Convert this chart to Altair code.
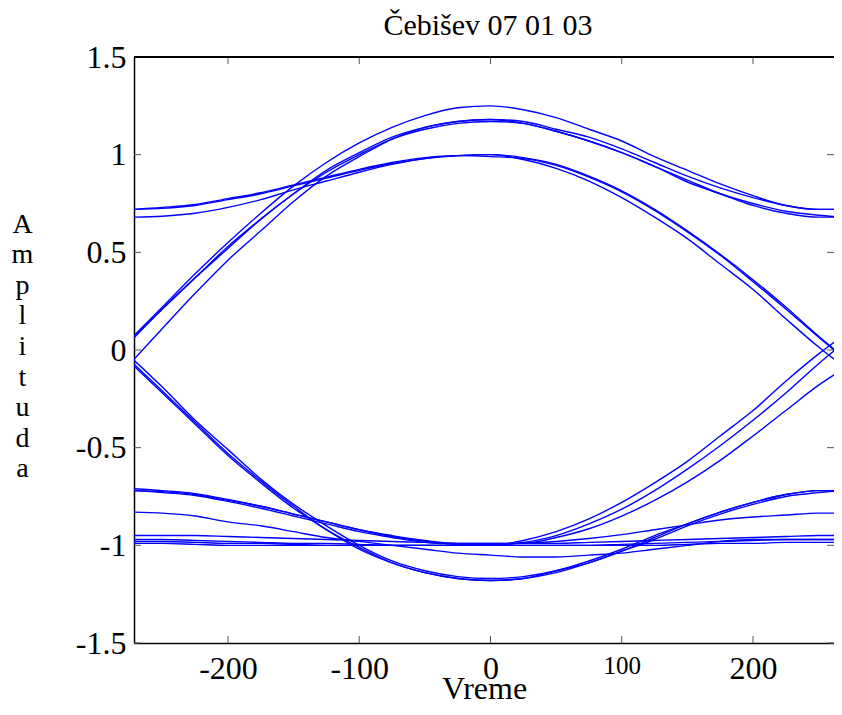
import altair as alt
import pandas as pd

# time grid (shared by all traces)
X = [-272, -250, -225, -200, -175, -150, -125, -100, -75, -50, -25, 0,
     25, 50, 75, 100, 125, 150, 175, 200, 225, 250, 268]

# upper traces
U1 = [0.07, 0.22, 0.39, 0.55, 0.70, 0.84, 0.96, 1.06, 1.14, 1.20, 1.24, 1.25,
      1.23, 1.19, 1.13, 1.07, 0.99, 0.92, 0.85, 0.79, 0.74, 0.72, 0.72]
U2a = [0.07, 0.21, 0.37, 0.53, 0.67, 0.80, 0.92, 1.01, 1.09, 1.14, 1.17, 1.18,
       1.17, 1.13, 1.09, 1.03, 0.96, 0.89, 0.83, 0.78, 0.74, 0.72, 0.72]
U2b = [-0.05, 0.11, 0.29, 0.46, 0.61, 0.76, 0.89, 0.99, 1.08, 1.14, 1.17, 1.18,
       1.16, 1.12, 1.07, 1.01, 0.94, 0.86, 0.80, 0.74, 0.70, 0.68, 0.68]
U2c = [0.06, 0.21, 0.37, 0.52, 0.67, 0.80, 0.91, 1.00, 1.08, 1.13, 1.16, 1.17,
       1.16, 1.12, 1.07, 1.01, 0.94, 0.87, 0.80, 0.75, 0.71, 0.69, 0.68]
U3a = [0.72, 0.725, 0.74, 0.77, 0.80, 0.84, 0.88, 0.92, 0.955, 0.98, 0.995, 1.0,
       0.985, 0.95, 0.89, 0.815, 0.72, 0.61, 0.49, 0.36, 0.22, 0.07, -0.03]
U3b = [0.68, 0.685, 0.70, 0.73, 0.77, 0.82, 0.865, 0.91, 0.95, 0.98, 0.995, 1.0,
       0.975, 0.93, 0.865, 0.78, 0.68, 0.57, 0.44, 0.31, 0.16, 0.015, -0.08]
U3c = [0.72, 0.73, 0.745, 0.775, 0.805, 0.845, 0.885, 0.925, 0.96, 0.985, 0.995, 0.99,
       0.98, 0.945, 0.885, 0.81, 0.715, 0.605, 0.485, 0.35, 0.21, 0.065, -0.035]

# lower traces
L1a = [-0.07, -0.21, -0.37, -0.53, -0.67, -0.80, -0.92, -1.01, -1.09, -1.14, -1.17, -1.18,
       -1.17, -1.13, -1.09, -1.03, -0.96, -0.89, -0.83, -0.78, -0.74, -0.72, -0.72]
L1b = [-0.05, -0.19, -0.36, -0.51, -0.66, -0.79, -0.90, -1.00, -1.08, -1.13, -1.16, -1.17,
       -1.16, -1.13, -1.08, -1.02, -0.95, -0.89, -0.83, -0.78, -0.74, -0.72, -0.72]
L1c = [-0.08, -0.22, -0.38, -0.54, -0.68, -0.81, -0.92, -1.02, -1.09, -1.14, -1.17, -1.18,
       -1.17, -1.14, -1.09, -1.03, -0.97, -0.90, -0.84, -0.79, -0.75, -0.73, -0.72]
L2a = [-0.72, -0.725, -0.74, -0.77, -0.80, -0.84, -0.88, -0.92, -0.955, -0.98, -0.995, -1.0,
       -0.985, -0.95, -0.89, -0.815, -0.72, -0.61, -0.49, -0.36, -0.22, -0.07, 0.03]
L2b = [-0.72, -0.73, -0.745, -0.775, -0.81, -0.85, -0.89, -0.93, -0.96, -0.985, -0.995, -1.0,
       -0.975, -0.93, -0.865, -0.78, -0.68, -0.57, -0.44, -0.31, -0.16, -0.02, 0.07]
L2c = [-0.71, -0.72, -0.735, -0.765, -0.80, -0.84, -0.88, -0.92, -0.95, -0.975, -0.99, -0.99,
       -0.99, -0.96, -0.915, -0.85, -0.77, -0.675, -0.565, -0.44, -0.31, -0.18, -0.10]
L3a = [-0.83, -0.835, -0.85, -0.88, -0.90, -0.93, -0.96, -0.98, -1.0, -1.02, -1.04, -1.05,
       -1.06, -1.06, -1.05, -1.04, -1.02, -1.0, -0.98, -0.97, -0.97, -0.97, -0.97]
L3b = [-0.95, -0.95, -0.95, -0.955, -0.96, -0.965, -0.97, -0.975, -0.98, -0.985, -0.99, -0.99,
       -0.99, -0.99, -0.985, -0.98, -0.975, -0.97, -0.965, -0.96, -0.955, -0.95, -0.95]
L3c = [-0.97, -0.97, -0.975, -0.98, -0.985, -0.99, -0.99, -0.995, -1.0, -1.0, -1.0, -1.0,
       -1.0, -1.0, -1.0, -0.995, -0.99, -0.985, -0.98, -0.975, -0.97, -0.97, -0.97]
L3d = [-0.99, -0.99, -0.995, -1.0, -1.0, -1.0, -1.0, -1.0, -1.0, -1.0, -1.0, -1.0,
       -1.0, -1.0, -1.0, -1.0, -1.0, -0.995, -0.99, -0.99, -0.985, -0.985, -0.985]
L3e = [-0.98, -0.98, -0.985, -0.99, -0.99, -0.995, -1.0, -1.0, -1.0, -1.0, -1.0, -0.995,
       -0.99, -0.98, -0.965, -0.945, -0.92, -0.895, -0.87, -0.855, -0.845, -0.835, -0.835]

XT = [-200, -100, 0, 100, 200]
YT = [-1.5, -1, -0.5, 0, 0.5, 1, 1.5]

traces = {"U1": U1, "U2a": U2a, "U2b": U2b, "U2c": U2c, "U3a": U3a, "U3b": U3b, "U3c": U3c,
          "L1a": L1a, "L1b": L1b, "L1c": L1c, "L2a": L2a, "L2b": L2b, "L2c": L2c,
          "L3a": L3a, "L3b": L3b, "L3c": L3c, "L3d": L3d, "L3e": L3e}

rows = [{"t": x, "v": v, "trace": name}
        for name, ys in traces.items() for x, v in zip(X, ys)]
df = pd.DataFrame(rows)

W, H = 700, 586
FONT = "Liberation Serif"

xscale = alt.Scale(domain=[-271.6, 261.7], nice=False, zero=False)
yscale = alt.Scale(domain=[-1.5, 1.5], nice=False, zero=False)

xaxis = alt.Axis(values=XT, title="Vreme", ticks=False, domain=True, domainColor="black",
                 domainWidth=1.5, grid=False,
                 labelFont=FONT,
                 labelFontSize={"condition": {"test": "datum.value === 100", "value": 25}, "value": 32},
                 labelColor="black", labelPadding=10, labelExpr="'' + datum.value",
                 titleFont=FONT, titleFontSize=32, titleFontWeight="normal", titleColor="black",
                 titlePadding=-11)
yaxis = alt.Axis(values=YT, title=list("Amplituda"), ticks=False, domain=True, domainColor="black",
                 domainWidth=1.5, grid=False,
                 labelFont=FONT, labelFontSize=32, labelColor="black", labelPadding=8,
                 labelExpr="'' + datum.value",
                 titleFont=FONT, titleFontSize=28, titleFontWeight="normal", titleColor="black",
                 titleAngle=0, titleAlign="center", titleBaseline="top", titleLineHeight=30.6,
                 titleX=-112, titleY=153)

lines = alt.Chart(df).mark_line(color="#0000ff", strokeWidth=1.4, clip=True,
                                interpolate="monotone").encode(
    x=alt.X("t:Q", scale=xscale, axis=xaxis),
    y=alt.Y("v:Q", scale=yscale, axis=yaxis),
    detail="trace:N",
)

xt_df = pd.DataFrame({"t": XT})
yt_df = pd.DataFrame({"v": YT})
tick_style = dict(color="#555555", strokeWidth=1)

bottom_ticks = alt.Chart(xt_df).mark_rule(**tick_style).encode(
    x=alt.X("t:Q", scale=xscale, axis=xaxis), y=alt.value(H), y2=alt.value(H - 7))
top_ticks = alt.Chart(xt_df).mark_rule(**tick_style).encode(
    x=alt.X("t:Q", scale=xscale, axis=xaxis), y=alt.value(0), y2=alt.value(7))
left_ticks = alt.Chart(yt_df).mark_rule(**tick_style).encode(
    y=alt.Y("v:Q", scale=yscale, axis=yaxis), x=alt.value(0), x2=alt.value(7))
right_ticks = alt.Chart(yt_df).mark_rule(**tick_style).encode(
    y=alt.Y("v:Q", scale=yscale, axis=yaxis), x=alt.value(W - 7), x2=alt.value(W))
top_border = alt.Chart(xt_df).mark_rule(color="black", strokeWidth=1.5).encode(
    x=alt.value(0), x2=alt.value(W), y=alt.value(0))

chart = alt.layer(bottom_ticks, top_ticks, left_ticks, right_ticks, top_border, lines).properties(
    width=W, height=H,
    title=alt.Title("Čebišev 07 01 03", font=FONT, fontSize=30, fontWeight="normal",
                    color="black", offset=0, dx=4),
    padding={"left": 126, "top": 49, "right": 0, "bottom": 64},
    autosize=alt.AutoSizeParams(type="none"),
    background="white",
).configure_view(stroke=None)

chart.save("out.html", embed_options={"renderer": "svg", "actions": False})
